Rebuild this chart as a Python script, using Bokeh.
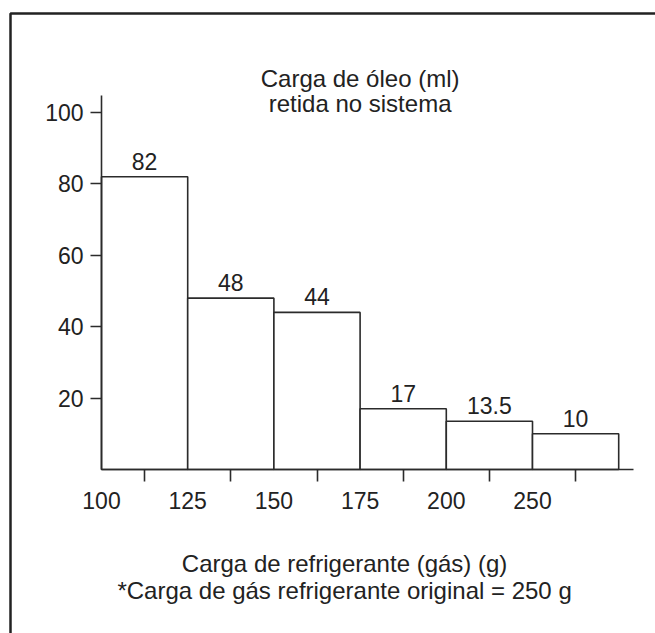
from bokeh.plotting import figure
from bokeh.models import FixedTicker, BoxAnnotation, ColumnDataSource, LinearAxis
from bokeh.core.properties import value
from bokeh.embed import file_html
from bokeh.resources import INLINE

# ---- data ----
categories = ["100", "125", "150", "175", "200", "250"]
oil_ml = [82, 48, 44, 17, 13.5, 10]
value_labels = ["82", "48", "44", "17", "13.5", "10"]
y_ticks = [20, 40, 60, 80, 100]
title_lines = ["Carga de óleo (ml)", "retida no sistema"]
xlabel_lines = ["Carga de refrigerante (gás) (g)",
                "*Carga de gás refrigerante original = 250 g"]

n = len(oil_ml)
lefts = [float(i) for i in range(n)]
rights = [i + 1.0 for i in lefts]
centers = [i + 0.5 for i in lefts]

INK = "#2b2b2b"
TXT = "#222222"
FONT = "Liberation Sans"

W, H = 655, 633
# pixel mapping: x=0 at 101px, 86.2 px/unit ; y=0 at 469px, 3.57 px/unit
XU, X0 = 86.2, 101.0
YU, Y0 = 3.57, 469.0
x_rng = (-X0 / XU, (W - X0) / XU)
y_rng = (-(H - Y0) / YU, Y0 / YU)

p = figure(width=W, height=H, output_backend="svg", toolbar_location=None,
           x_range=x_rng, y_range=y_rng,
           x_axis_location=None, y_axis_location=None,
           min_border=0)
p.outline_line_color = None
p.xgrid.visible = False
p.ygrid.visible = False
p.background_fill_color = "white"
p.border_fill_color = "white"

src = ColumnDataSource(dict(left=lefts, right=rights, top=oil_ml,
                            x=centers, lab=value_labels))
p.quad(left="left", right="right", top="top", bottom=0, source=src,
       fill_color="white", line_color=INK, line_width=1.6)
p.text(x="x", y="top", text="lab", source=src, text_align="center",
       text_baseline="bottom", y_offset=-7, text_font_size="23px",
       text_color=TXT, text_font=value(FONT))

# x axis: labels at bar edges, ticks at bar centres
xa = LinearAxis(fixed_location=0, bounds=(0, 6.17))
xa.ticker = FixedTicker(ticks=lefts, minor_ticks=centers)
xa.major_label_overrides = {float(i): categories[i] for i in range(n)}
xa.major_tick_out = 0
xa.major_tick_in = 0
xa.minor_tick_out = 12
xa.minor_tick_in = 0
xa.minor_tick_line_color = INK
xa.minor_tick_line_width = 1.6
xa.axis_line_color = INK
xa.axis_line_width = 1.6
xa.major_label_standoff = 10
xa.major_label_text_font_size = "23px"
xa.major_label_text_font = FONT
xa.major_label_text_color = TXT
p.add_layout(xa, "below")

ya = LinearAxis(fixed_location=0, bounds=(0, 104.8))
ya.ticker = FixedTicker(ticks=y_ticks)
ya.major_tick_out = 11
ya.major_tick_in = 0
ya.minor_tick_line_color = None
ya.major_tick_line_color = INK
ya.major_tick_line_width = 1.6
ya.axis_line_color = INK
ya.axis_line_width = 1.6
ya.major_label_standoff = 7
ya.major_label_text_font_size = "23px"
ya.major_label_text_font = FONT
ya.major_label_text_color = TXT
p.add_layout(ya, "left")

# titles (data coordinates)
p.text(x=[3.0, 3.0], y=[109.5, 102.5], text=title_lines, text_align="center",
       text_baseline="alphabetic", text_font_size="24px",
       text_font=value(FONT), text_color=TXT)
p.text(x=[2.82, 2.82], y=[-26.3, -33.9], text=xlabel_lines, text_align="center",
       text_baseline="alphabetic", text_font_size="24px",
       text_font=value(FONT), text_color=TXT)

# outer frame (left and top edges visible)
p.add_layout(BoxAnnotation(left=(10 - X0) / XU, right=20, top=(Y0 - 13) / YU,
                           bottom=-200, fill_color=None, fill_alpha=0,
                           line_color=TXT, line_width=2.5, line_alpha=1))

open("out.html", "w").write(file_html(p, INLINE))
